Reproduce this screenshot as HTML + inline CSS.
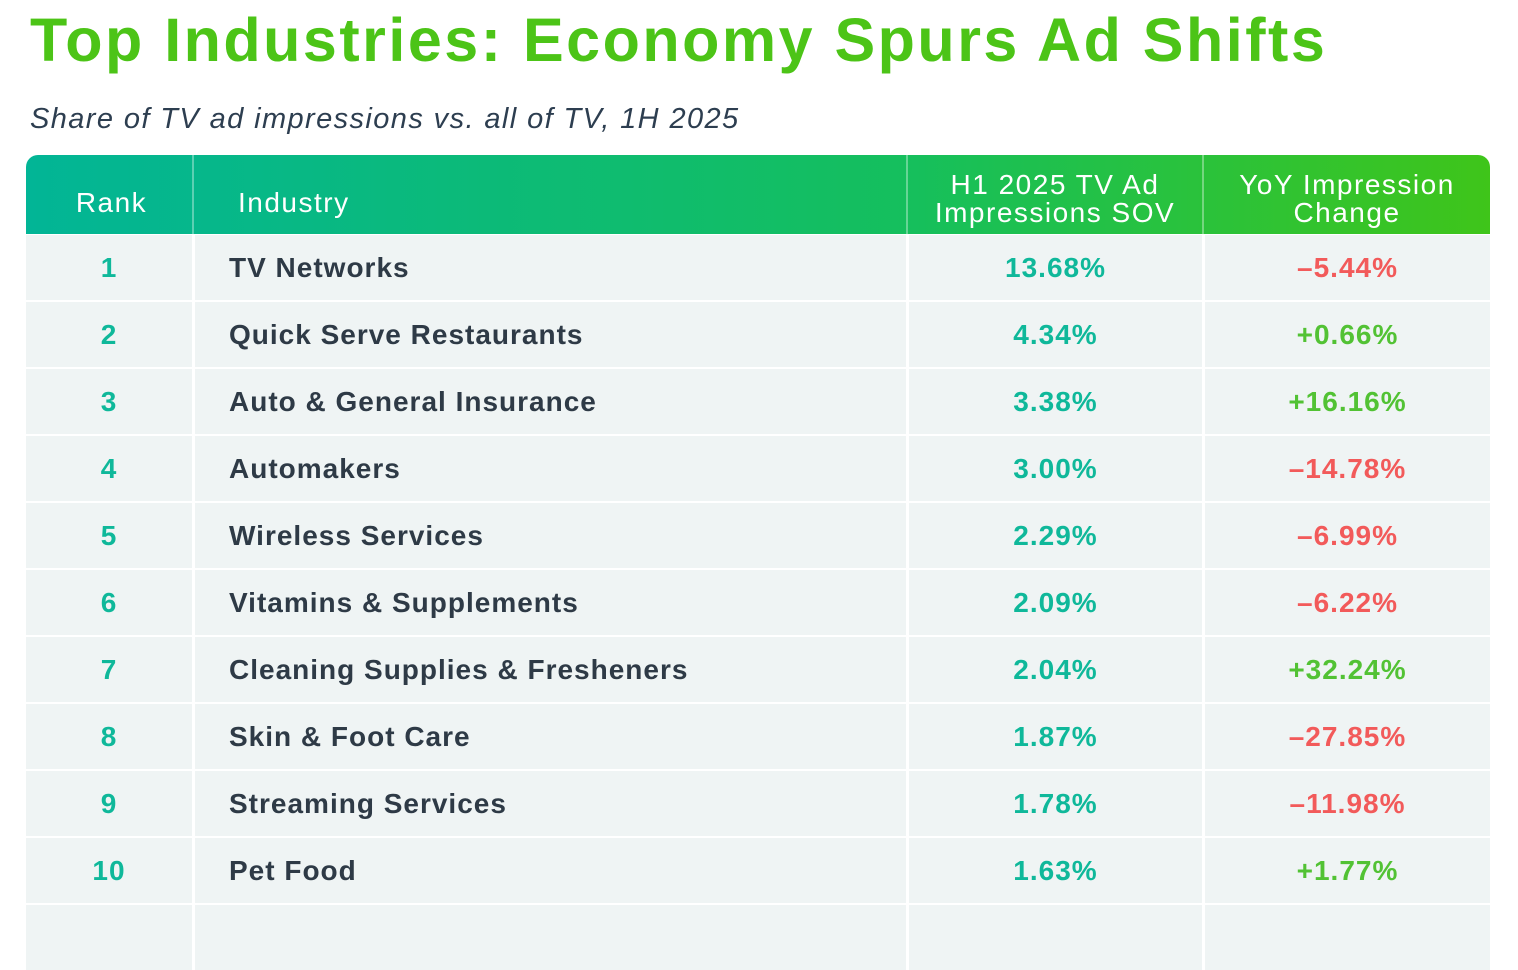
<!DOCTYPE html>
<html><head><meta charset="utf-8"><style>
body{margin:0;width:1518px;height:910px;overflow:hidden;background:#fff;font-family:"Liberation Sans",sans-serif;position:relative}
#title{position:absolute;left:30px;top:5px;font-size:61px;font-weight:bold;color:#4cc417;letter-spacing:2.5px;white-space:nowrap}
#sub{position:absolute;left:30px;top:103px;font-size:29px;font-style:italic;color:#2d3e50;letter-spacing:1.4px;white-space:nowrap}
.hdr{position:absolute;top:155px;height:79px;left:26px;width:1464px;border-radius:12px 12px 0 0;background:linear-gradient(90deg,#02b596,#15bf5d 60%,#3fc51a)}
.hc{position:absolute;color:#fff;font-size:28px;display:flex;align-items:center;line-height:28px;letter-spacing:1.5px}
.cell{position:absolute;background:#eff4f4;display:flex;align-items:center;font-size:28px;font-weight:bold;letter-spacing:1px}
.vs{position:absolute;top:155px;width:2px;height:79px;background:rgba(255,255,255,0.35)}
</style></head><body>
<div id="title">Top Industries: Economy Spurs Ad Shifts</div>
<div id="sub">Share of TV ad impressions vs. all of TV, 1H 2025</div>
<div class="hdr"></div>
<div class="vs" style="left:192px"></div>
<div class="vs" style="left:906px"></div>
<div class="vs" style="left:1202px"></div>
<div class="hc" style="left:26px;width:171px;top:155px;height:95px;justify-content:center">Rank</div>
<div class="hc" style="left:238px;top:155px;height:95px">Industry</div>
<div class="hc" style="left:908px;width:294px;top:171px;justify-content:center;text-align:center">H1 2025 TV Ad<br>Impressions SOV</div>
<div class="hc" style="left:1204px;width:286px;top:171px;justify-content:center;text-align:center">YoY Impression<br>Change</div>
<div id="rows"></div>
<script>
const ranks=[1,2,3,4,5,6,7,8,9,10];
const industries=["TV Networks","Quick Serve Restaurants","Auto & General Insurance","Automakers","Wireless Services","Vitamins & Supplements","Cleaning Supplies & Fresheners","Skin & Foot Care","Streaming Services","Pet Food"];
const sov=[13.68,4.34,3.38,3.00,2.29,2.09,2.04,1.87,1.78,1.63];
const yoy=[-5.44,0.66,16.16,-14.78,-6.99,-6.22,32.24,-27.85,-11.98,1.77];
const cols=[[26,166],[195,711],[909,293],[1205,285]];
const top0=235,rh=67;
const root=document.getElementById('rows');
function mk(x,w,y,h,txt,style){const d=document.createElement('div');d.className='cell';d.style.cssText=`left:${x}px;width:${w}px;top:${y}px;height:${h}px;`+style;d.textContent=txt;root.appendChild(d);return d;}
for(let i=0;i<=ranks.length;i++){
  const y=top0+i*rh, h=rh-2;
  if(i===ranks.length){for(const c of cols){const e=mk(c[0],c[1],y,h,'','');

}continue;}
  let e=mk(cols[0][0],cols[0][1],y,h,String(ranks[i]),'justify-content:center;color:#0fb89a;');
  
  
  e=mk(cols[1][0],cols[1][1],y,h,industries[i],'padding-left:34px;box-sizing:border-box;color:#2e3a46;');
  
  
  e=mk(cols[2][0],cols[2][1],y,h,sov[i].toFixed(2)+'%','justify-content:center;color:#0fb89a;');
  
  
  const v=yoy[i];
  e=mk(cols[3][0],cols[3][1],y,h,(v>=0?'+':'\u2013')+Math.abs(v).toFixed(2)+'%','justify-content:center;color:'+(v>=0?'#52c234':'#f25a5a')+';');
  
  
}
</script>
</body></html>
